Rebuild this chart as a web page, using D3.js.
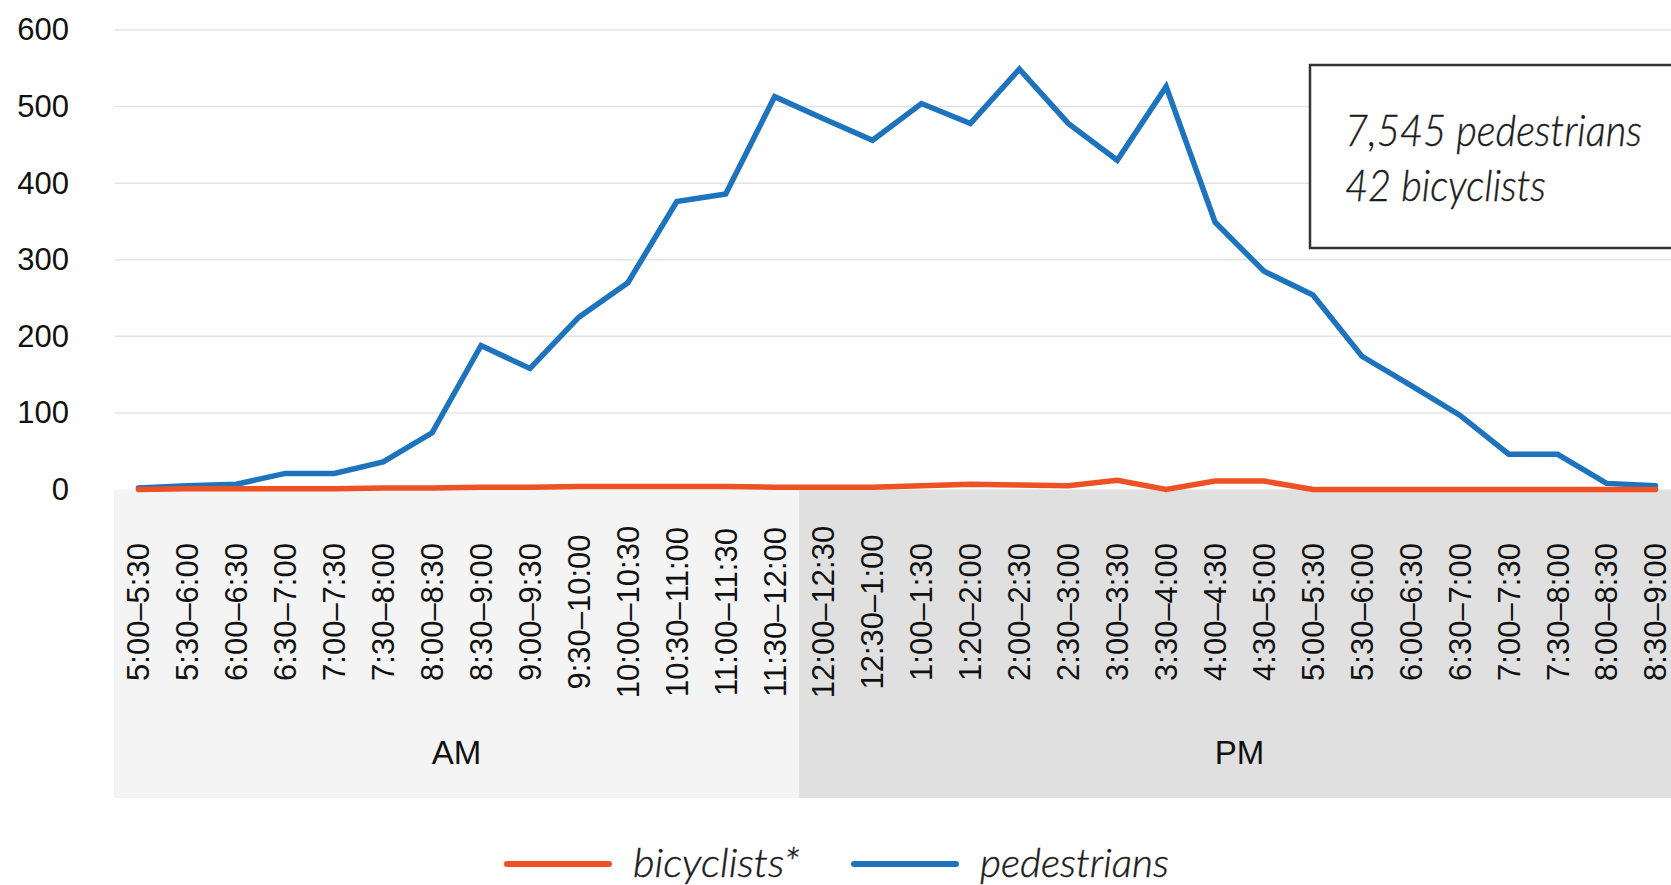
<!DOCTYPE html>
<html>
<head>
<meta charset="utf-8">
<script src="https://cdn.jsdelivr.net/npm/d3@7"></script>
<style>
  html, body { margin: 0; padding: 0; background: #fff; }
  svg { display: block; }
  .axis text { font-family: "Liberation Sans", Arial, sans-serif; fill: #111; }
  .note { font-family: Lato, "Open Sans", sans-serif; font-style: italic; font-weight: 300; fill: #1c1c1c; stroke: #1c1c1c; stroke-width: 0.4; }
</style>
</head>
<body>
<svg id="chart" width="1671" height="885"></svg>
<script>
'use strict';

// half-hour counting slots (the "1:20" typo is in the source chart)
var slots = [
  "5:00–5:30", "5:30–6:00", "6:00–6:30", "6:30–7:00", "7:00–7:30", "7:30–8:00",
  "8:00–8:30", "8:30–9:00", "9:00–9:30", "9:30–10:00", "10:00–10:30", "10:30–11:00",
  "11:00–11:30", "11:30–12:00",
  "12:00–12:30", "12:30–1:00", "1:00–1:30", "1:20–2:00", "2:00–2:30", "2:30–3:00",
  "3:00–3:30", "3:30–4:00", "4:00–4:30", "4:30–5:00", "5:00–5:30", "5:30–6:00",
  "6:00–6:30", "6:30–7:00", "7:00–7:30", "7:30–8:00", "8:00–8:30", "8:30–9:00"
];

var pedestrians = [2, 5, 7, 21, 21, 36, 74, 188, 158, 225, 270, 376, 386, 513,
  484, 456, 504, 478, 549, 478, 430, 526, 349, 285, 254, 174, 136, 97, 46, 46, 8, 5];

var bicyclists = [0, 1, 1, 1, 1, 2, 2, 3, 3, 4, 4, 4, 4, 3,
  3, 3, 5, 7, 6, 5, 12, 0, 11, 11, 0, 0, 0, 0, 0, 0, 0, 0];

var periods = ["AM", "PM"];
var periodSize = [14, 18];   // number of slots in each period

var yTicks = [0, 100, 200, 300, 400, 500, 600];

var totals = ["7,545 pedestrians", "42 bicyclists"];

var series = [
  { name: "bicyclists*", values: bicyclists, color: "#ee5124" },
  { name: "pedestrians", values: pedestrians, color: "#1e73be" }
];

var svg = d3.select("#chart");
var W = 1671;

// the slots are keyed by index since names repeat between AM and PM
var x = d3.scaleBand()
  .domain(d3.range(slots.length))
  .range([114, 1680]);
var bw = x.bandwidth();
var cx = function(i) { return x(i) + bw / 2; };

var y = d3.scaleLinear()
  .domain([0, 600])
  .range([489.5, 30]);

//
// AM / PM background bands
//
var start = 0;
var bands = periods.map(function(p, k) {
  var b = { name: p, x0: x(start), x1: x(start + periodSize[k] - 1) + bw };
  start += periodSize[k];
  return b;
});

var bandG = svg.append("g");
bandG.selectAll("rect")
  .data(bands)
  .enter().append("rect")
  .attr("x", function(d) { return d.x0; })
  .attr("width", function(d) { return d.x1 - d.x0; })
  .attr("y", y(0))
  .attr("height", 798 - y(0))
  .attr("fill", function(d, k) { return k === 0 ? "#f4f4f4" : "#e0e0e0"; });

bandG.selectAll("text")
  .data(bands)
  .enter().append("text")
  .attr("x", function(d) { return (d.x0 + d.x1) / 2; })
  .attr("y", 764)
  .attr("text-anchor", "middle")
  .style("font-family", "'Liberation Sans', Arial, sans-serif")
  .style("font-size", "33px")
  .style("fill", "#111")
  .text(function(d) { return d.name; });

//
// grid lines
//
svg.append("g")
  .selectAll("line")
  .data(yTicks.slice(1))
  .enter().append("line")
  .attr("x1", 115)
  .attr("x2", W)
  .attr("y1", function(d) { return y(d); })
  .attr("y2", function(d) { return y(d); })
  .attr("stroke", "#e3e3e3")
  .attr("stroke-width", 1.5);

//
// y axis labels
//
var yAxis = svg.append("g")
  .attr("class", "axis")
  .attr("transform", "translate(115,0)")
  .call(d3.axisLeft(y).tickValues(yTicks).tickSize(0).tickPadding(46));
yAxis.select(".domain").remove();
yAxis.selectAll("text").style("font-size", "31px");

//
// x axis labels, rotated
//
var xAxis = svg.append("g")
  .attr("class", "axis")
  .attr("transform", "translate(0," + y(0) + ")")
  .call(d3.axisBottom(x).tickSize(0).tickFormat(function(i) { return slots[i]; }));
xAxis.select(".domain").remove();
xAxis.selectAll("text")
  .style("font-size", "31px")
  .attr("transform", "rotate(-90)")
  .attr("text-anchor", "middle")
  .attr("x", -(612 - y(0)))
  .attr("y", 0)
  .attr("dy", "0.35em");

//
// series lines (pedestrians under bicyclists)
//
var line = d3.line()
  .x(function(d, i) { return cx(i); })
  .y(function(d) { return y(d); });

svg.append("g")
  .selectAll("path")
  .data(series.slice().reverse())
  .enter().append("path")
  .attr("d", function(d) { return line(d.values); })
  .attr("fill", "none")
  .attr("stroke", function(d) { return d.color; })
  .attr("stroke-width", 5.5)
  .attr("stroke-linecap", "round")
  .attr("stroke-linejoin", "miter");

//
// totals box
//
var box = svg.append("g");
box.append("rect")
  .attr("x", 1310)
  .attr("y", 65)
  .attr("width", 400)
  .attr("height", 183)
  .attr("fill", "#fff")
  .attr("stroke", "#333")
  .attr("stroke-width", 2.5);

var totalWidths = [297, 201];
box.selectAll("text")
  .data(totals)
  .enter().append("text")
  .attr("class", "note")
  .attr("x", 1345)
  .attr("y", function(d, i) { return 146 + i * 55; })
  .attr("textLength", function(d, i) { return totalWidths[i]; })
  .attr("lengthAdjust", "spacingAndGlyphs")
  .style("font-size", "44px")
  .text(function(d) { return d; });

//
// legend
//
var legendX = [507, 854];
var legendW = [167, 189];
var legend = svg.append("g")
  .selectAll("g")
  .data(series)
  .enter().append("g")
  .attr("transform", function(d, i) { return "translate(" + legendX[i] + ",864)"; });

legend.append("line")
  .attr("x1", 0)
  .attr("x2", 102)
  .attr("stroke", function(d) { return d.color; })
  .attr("stroke-width", 6)
  .attr("stroke-linecap", "round");

legend.append("text")
  .attr("class", "note")
  .attr("x", 126)
  .attr("y", 13)
  .attr("textLength", function(d, i) { return legendW[i]; })
  .attr("lengthAdjust", "spacingAndGlyphs")
  .style("font-size", "39px")
  .text(function(d) { return d.name; });
</script>
</body>
</html>
